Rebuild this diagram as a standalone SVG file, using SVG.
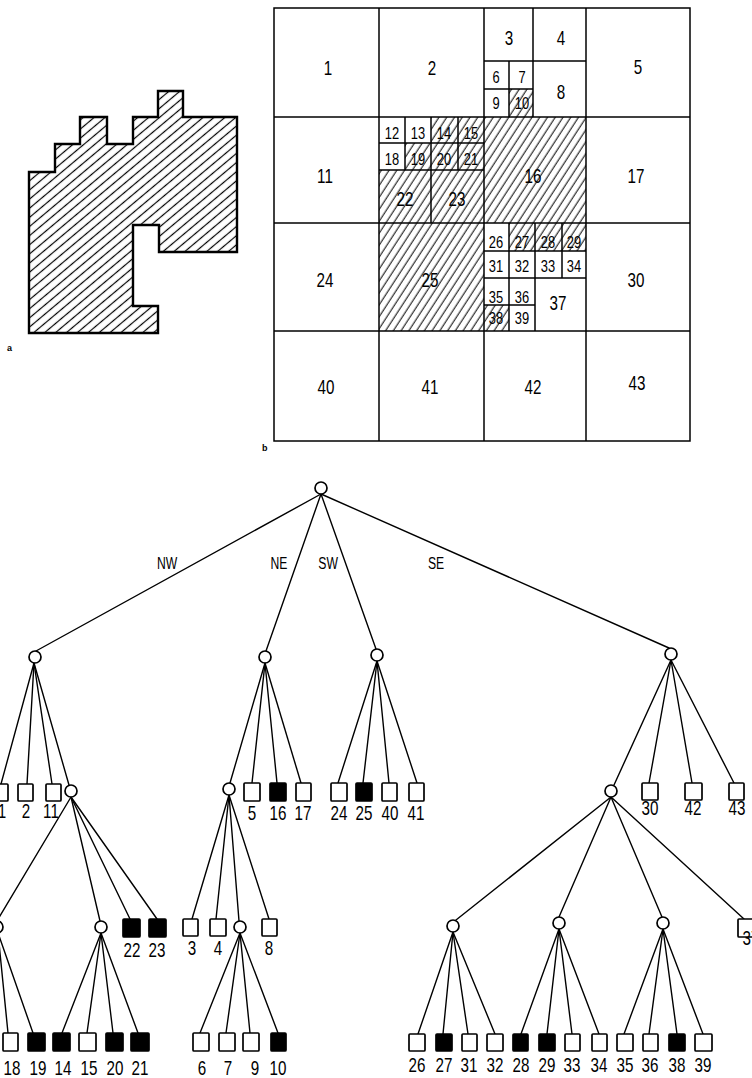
<svg xmlns="http://www.w3.org/2000/svg" width="752" height="1078" viewBox="0 0 752 1078">
<style>
.ln{stroke:#000;stroke-width:1.4;fill:none;stroke-linecap:round}
.sq{fill:#fff;stroke:#000;stroke-width:1.7}
.sqf{fill:#000;stroke:#000;stroke-width:1.7}
.ci{fill:#fff;stroke:#000;stroke-width:1.7}
.cell{fill:none;stroke:#000;stroke-width:1.5}
.hat{fill:url(#hb);stroke:none}
.t,.ts,.te{font-family:"Liberation Sans",Arial,sans-serif;text-anchor:middle;fill:#000;transform-box:fill-box;transform-origin:center;transform:scaleX(0.76)}
.t{font-size:20px}
.ts{font-size:17px}
.te{font-size:16px}
.cap{font-family:"Liberation Sans",sans-serif;font-weight:bold;font-size:9px;fill:#000}
</style>
<defs>
<pattern id="hb" patternUnits="userSpaceOnUse" width="6.5" height="20" patternTransform="rotate(33)"><line x1="3" y1="-1" x2="3" y2="21" stroke="#000" stroke-width="1"/></pattern>
<pattern id="ha" patternUnits="userSpaceOnUse" width="7" height="20" patternTransform="rotate(50)"><line x1="3.5" y1="-1" x2="3.5" y2="21" stroke="#000" stroke-width="1.2"/></pattern>
</defs>

<!-- figure a -->
<g id="figA">
<polygon points="29,172 55,172 55,144 80,144 80,117 107,117 107,144 133,144 133,117 158,117 158,91 183,91 183,117 237,117 237,252 159,252 159,225 133,225 133,306 158,306 158,333 29,333" fill="url(#ha)" stroke="#000" stroke-width="2.4" stroke-linejoin="miter"/>
<text class="cap" x="7" y="351">a</text>
</g>

<!-- figure b -->
<g id="figB">
<g id="hatches">
<rect class="hat" x="509" y="89" width="24" height="28"/>
<rect class="hat" x="431" y="117" width="53" height="53"/>
<rect class="hat" x="405" y="143" width="26" height="27"/>
<rect class="hat" x="379" y="170" width="105" height="53"/>
<rect class="hat" x="484" y="117" width="102" height="106"/>
<rect class="hat" x="379" y="223" width="105" height="108"/>
<rect class="hat" x="509" y="223" width="77" height="28"/>
<rect class="hat" x="484" y="305" width="25" height="26"/>
</g>
<g id="cells">
<rect class="cell" x="274" y="8" width="416" height="433"/>
<line class="cell" x1="379" y1="8" x2="379" y2="441"/>
<line class="cell" x1="484" y1="8" x2="484" y2="441"/>
<line class="cell" x1="586" y1="8" x2="586" y2="441"/>
<line class="cell" x1="274" y1="117" x2="690" y2="117"/>
<line class="cell" x1="274" y1="223" x2="690" y2="223"/>
<line class="cell" x1="274" y1="331" x2="690" y2="331"/>
<line class="cell" x1="533" y1="8" x2="533" y2="117"/>
<line class="cell" x1="484" y1="61" x2="586" y2="61"/>
<line class="cell" x1="509" y1="61" x2="509" y2="117"/>
<line class="cell" x1="484" y1="89" x2="533" y2="89"/>
<line class="cell" x1="405" y1="117" x2="405" y2="170"/>
<line class="cell" x1="431" y1="117" x2="431" y2="223"/>
<line class="cell" x1="458" y1="117" x2="458" y2="170"/>
<line class="cell" x1="379" y1="143" x2="484" y2="143"/>
<line class="cell" x1="379" y1="170" x2="484" y2="170"/>
<line class="cell" x1="509" y1="223" x2="509" y2="331"/>
<line class="cell" x1="535" y1="223" x2="535" y2="331"/>
<line class="cell" x1="562" y1="223" x2="562" y2="278"/>
<line class="cell" x1="484" y1="251" x2="586" y2="251"/>
<line class="cell" x1="484" y1="278" x2="586" y2="278"/>
<line class="cell" x1="484" y1="305" x2="535" y2="305"/>
</g>
<g id="cellLabels">
<text class="t" x="328" y="75">1</text>
<text class="t" x="432" y="75">2</text>
<text class="t" x="509" y="45">3</text>
<text class="t" x="561" y="45">4</text>
<text class="t" x="638" y="74">5</text>
<text class="ts" x="496" y="83">6</text>
<text class="ts" x="522" y="83">7</text>
<text class="ts" x="496" y="109">9</text>
<text class="ts" x="522" y="109">10</text>
<text class="t" x="561" y="99">8</text>
<text class="t" x="325" y="183">11</text>
<text class="ts" x="392" y="139">12</text>
<text class="ts" x="418" y="139">13</text>
<text class="ts" x="444" y="139">14</text>
<text class="ts" x="471" y="139">15</text>
<text class="ts" x="392" y="165">18</text>
<text class="ts" x="418" y="165">19</text>
<text class="ts" x="444" y="165">20</text>
<text class="ts" x="471" y="165">21</text>
<text class="t" x="405" y="206">22</text>
<text class="t" x="457" y="206">23</text>
<text class="t" x="533" y="183">16</text>
<text class="t" x="636" y="183">17</text>
<text class="t" x="325" y="287">24</text>
<text class="t" x="430" y="287">25</text>
<text class="t" x="636" y="287">30</text>
<text class="ts" x="496" y="248">26</text>
<text class="ts" x="522" y="248">27</text>
<text class="ts" x="548" y="248">28</text>
<text class="ts" x="574" y="248">29</text>
<text class="ts" x="496" y="272">31</text>
<text class="ts" x="522" y="272">32</text>
<text class="ts" x="548" y="272">33</text>
<text class="ts" x="574" y="272">34</text>
<text class="ts" x="496" y="303">35</text>
<text class="ts" x="522" y="303">36</text>
<text class="ts" x="496" y="324">38</text>
<text class="ts" x="522" y="324">39</text>
<text class="t" x="558" y="310">37</text>
<text class="t" x="326" y="394">40</text>
<text class="t" x="430" y="394">41</text>
<text class="t" x="533" y="394">42</text>
<text class="t" x="637" y="390">43</text>
</g>
<text class="cap" x="262" y="451">b</text>
</g>

<!-- tree connectors -->
<g id="connectors">
<line class="ln" x1="321" y1="494" x2="36" y2="651"/>
<line class="ln" x1="321" y1="494" x2="266" y2="651"/>
<line class="ln" x1="321" y1="494" x2="376" y2="649"/>
<line class="ln" x1="321" y1="494" x2="669" y2="648"/>

<line class="ln" x1="34" y1="663" x2="1" y2="784"/>
<line class="ln" x1="34" y1="663" x2="27" y2="784"/>
<line class="ln" x1="34" y1="663" x2="52" y2="784"/>
<line class="ln" x1="34" y1="663" x2="69" y2="785"/>

<line class="ln" x1="71" y1="797" x2="-3" y2="921"/>
<line class="ln" x1="71" y1="797" x2="100" y2="921"/>
<line class="ln" x1="71" y1="797" x2="130" y2="919"/>
<line class="ln" x1="71" y1="797" x2="157" y2="919"/>

<line class="ln" x1="-2" y1="933" x2="8" y2="1033"/>
<line class="ln" x1="-2" y1="933" x2="33" y2="1033"/>

<line class="ln" x1="101" y1="933" x2="62" y2="1033"/>
<line class="ln" x1="101" y1="933" x2="87" y2="1033"/>
<line class="ln" x1="101" y1="933" x2="113" y2="1033"/>
<line class="ln" x1="101" y1="933" x2="138" y2="1033"/>

<line class="ln" x1="265" y1="663" x2="230" y2="783"/>
<line class="ln" x1="265" y1="663" x2="252" y2="783"/>
<line class="ln" x1="265" y1="663" x2="277" y2="783"/>
<line class="ln" x1="265" y1="663" x2="301" y2="783"/>

<line class="ln" x1="229" y1="795" x2="192" y2="919"/>
<line class="ln" x1="229" y1="795" x2="216" y2="919"/>
<line class="ln" x1="229" y1="795" x2="239" y2="921"/>
<line class="ln" x1="229" y1="795" x2="269" y2="919"/>

<line class="ln" x1="240" y1="933" x2="200" y2="1033"/>
<line class="ln" x1="240" y1="933" x2="226" y2="1033"/>
<line class="ln" x1="240" y1="933" x2="250" y2="1033"/>
<line class="ln" x1="240" y1="933" x2="278" y2="1033"/>

<line class="ln" x1="377" y1="661" x2="338" y2="783"/>
<line class="ln" x1="377" y1="661" x2="363" y2="783"/>
<line class="ln" x1="377" y1="661" x2="389" y2="783"/>
<line class="ln" x1="377" y1="661" x2="417" y2="783"/>

<line class="ln" x1="671" y1="660" x2="614" y2="785"/>
<line class="ln" x1="671" y1="660" x2="649" y2="783"/>
<line class="ln" x1="671" y1="660" x2="692" y2="783"/>
<line class="ln" x1="671" y1="660" x2="734" y2="783"/>

<line class="ln" x1="611" y1="797" x2="456" y2="920"/>
<line class="ln" x1="611" y1="797" x2="559" y2="917"/>
<line class="ln" x1="611" y1="797" x2="662" y2="917"/>
<line class="ln" x1="611" y1="797" x2="744" y2="919"/>

<line class="ln" x1="453" y1="932" x2="418" y2="1034"/>
<line class="ln" x1="453" y1="932" x2="443" y2="1034"/>
<line class="ln" x1="453" y1="932" x2="468" y2="1034"/>
<line class="ln" x1="453" y1="932" x2="495" y2="1034"/>

<line class="ln" x1="559" y1="929" x2="521" y2="1034"/>
<line class="ln" x1="559" y1="929" x2="547" y2="1034"/>
<line class="ln" x1="559" y1="929" x2="572" y2="1034"/>
<line class="ln" x1="559" y1="929" x2="599" y2="1034"/>

<line class="ln" x1="663" y1="929" x2="624" y2="1034"/>
<line class="ln" x1="663" y1="929" x2="649" y2="1034"/>
<line class="ln" x1="663" y1="929" x2="677" y2="1034"/>
<line class="ln" x1="663" y1="929" x2="703" y2="1034"/>

<text class="te" x="167" y="569">NW</text>
<text class="te" x="279" y="569">NE</text>
<text class="te" x="328" y="569">SW</text>
<text class="te" x="436" y="569">SE</text>
</g>

<!-- internal nodes -->
<g id="n-root"><circle class="ci" cx="321" cy="488" r="6"/></g>
<g id="n-NW"><circle class="ci" cx="35" cy="657" r="6"/></g>
<g id="n-NE"><circle class="ci" cx="265" cy="657" r="6"/></g>
<g id="n-SW"><circle class="ci" cx="377" cy="655" r="6"/></g>
<g id="n-SE"><circle class="ci" cx="671" cy="654" r="6"/></g>
<g id="n-NW-SE"><circle class="ci" cx="71" cy="791" r="6"/></g>
<g id="n-NW-SE-NW"><circle class="ci" cx="-3" cy="927" r="6"/></g>
<g id="n-NW-SE-NE"><circle class="ci" cx="101" cy="927" r="6"/></g>
<g id="n-NE-NW"><circle class="ci" cx="229" cy="789" r="6"/></g>
<g id="n-NE-NW-SW"><circle class="ci" cx="240" cy="927" r="6"/></g>
<g id="n-SE-NW"><circle class="ci" cx="611" cy="791" r="6"/></g>
<g id="n-SE-NW-NW"><circle class="ci" cx="453" cy="926" r="6"/></g>
<g id="n-SE-NW-NE"><circle class="ci" cx="559" cy="923" r="6"/></g>
<g id="n-SE-NW-SW"><circle class="ci" cx="663" cy="923" r="6"/></g>

<!-- leaves level 2 -->
<g id="leaf-1"><rect class="sq" x="-7" y="784" width="15" height="17" rx="1"/><text class="t" x="2" y="818">1</text></g>
<g id="leaf-2"><rect class="sq" x="18" y="784" width="15" height="17" rx="1"/><text class="t" x="26" y="818">2</text></g>
<g id="leaf-11"><rect class="sq" x="46" y="784" width="15" height="17" rx="1"/><text class="t" x="51" y="818">11</text></g>
<g id="leaf-5"><rect class="sq" x="244" y="783" width="16" height="18" rx="1"/><text class="t" x="252" y="820">5</text></g>
<g id="leaf-16"><rect class="sqf" x="270" y="783" width="16" height="18" rx="1"/><text class="t" x="278" y="820">16</text></g>
<g id="leaf-17"><rect class="sq" x="296" y="783" width="15" height="18" rx="1"/><text class="t" x="303" y="820">17</text></g>
<g id="leaf-24"><rect class="sq" x="331" y="783" width="16" height="18" rx="1"/><text class="t" x="339" y="820">24</text></g>
<g id="leaf-25"><rect class="sqf" x="356" y="783" width="16" height="18" rx="1"/><text class="t" x="364" y="820">25</text></g>
<g id="leaf-40"><rect class="sq" x="382" y="783" width="15" height="18" rx="1"/><text class="t" x="390" y="820">40</text></g>
<g id="leaf-41"><rect class="sq" x="409" y="783" width="15" height="18" rx="1"/><text class="t" x="416" y="820">41</text></g>
<g id="leaf-30"><rect class="sq" x="642" y="783" width="16" height="17" rx="1"/><text class="t" x="650" y="815">30</text></g>
<g id="leaf-42"><rect class="sq" x="685" y="783" width="17" height="17" rx="1"/><text class="t" x="693" y="815">42</text></g>
<g id="leaf-43"><rect class="sq" x="729" y="783" width="15" height="17" rx="1"/><text class="t" x="737" y="815">43</text></g>

<!-- leaves level 3 -->
<g id="leaf-22"><rect class="sqf" x="123" y="919" width="17" height="18" rx="1"/><text class="t" x="132" y="957">22</text></g>
<g id="leaf-23"><rect class="sqf" x="149" y="919" width="17" height="18" rx="1"/><text class="t" x="157" y="957">23</text></g>
<g id="leaf-3"><rect class="sq" x="183" y="919" width="15" height="17" rx="1"/><text class="t" x="192" y="955">3</text></g>
<g id="leaf-4"><rect class="sq" x="210" y="919" width="16" height="17" rx="1"/><text class="t" x="218" y="955">4</text></g>
<g id="leaf-8"><rect class="sq" x="262" y="919" width="15" height="17" rx="1"/><text class="t" x="269" y="955">8</text></g>
<g id="leaf-37"><rect class="sq" x="738" y="919" width="18" height="18" rx="1"/><text class="t" x="751" y="945">37</text></g>

<!-- leaves level 4 -->
<g id="leaf-18"><rect class="sq" x="3" y="1033" width="15" height="18" rx="1"/><text class="t" x="12" y="1075">18</text></g>
<g id="leaf-19"><rect class="sqf" x="28" y="1033" width="17" height="18" rx="1"/><text class="t" x="38" y="1075">19</text></g>
<g id="leaf-14"><rect class="sqf" x="53" y="1033" width="17" height="18" rx="1"/><text class="t" x="63" y="1075">14</text></g>
<g id="leaf-15"><rect class="sq" x="79" y="1033" width="17" height="18" rx="1"/><text class="t" x="89" y="1075">15</text></g>
<g id="leaf-20"><rect class="sqf" x="106" y="1033" width="17" height="18" rx="1"/><text class="t" x="115" y="1075">20</text></g>
<g id="leaf-21"><rect class="sqf" x="131" y="1033" width="18" height="18" rx="1"/><text class="t" x="140" y="1075">21</text></g>
<g id="leaf-6"><rect class="sq" x="193" y="1033" width="16" height="18" rx="1"/><text class="t" x="202" y="1075">6</text></g>
<g id="leaf-7"><rect class="sq" x="219" y="1033" width="16" height="18" rx="1"/><text class="t" x="228" y="1075">7</text></g>
<g id="leaf-9"><rect class="sq" x="243" y="1033" width="16" height="18" rx="1"/><text class="t" x="255" y="1075">9</text></g>
<g id="leaf-10"><rect class="sqf" x="271" y="1033" width="15" height="18" rx="1"/><text class="t" x="278" y="1075">10</text></g>
<g id="leaf-26"><rect class="sq" x="409" y="1034" width="16" height="17" rx="1"/><text class="t" x="417" y="1072">26</text></g>
<g id="leaf-27"><rect class="sqf" x="436" y="1034" width="16" height="17" rx="1"/><text class="t" x="444" y="1072">27</text></g>
<g id="leaf-31"><rect class="sq" x="462" y="1034" width="15" height="17" rx="1"/><text class="t" x="469" y="1072">31</text></g>
<g id="leaf-32"><rect class="sq" x="487" y="1034" width="16" height="17" rx="1"/><text class="t" x="495" y="1072">32</text></g>
<g id="leaf-28"><rect class="sqf" x="513" y="1034" width="15" height="17" rx="1"/><text class="t" x="521" y="1072">28</text></g>
<g id="leaf-29"><rect class="sqf" x="539" y="1034" width="16" height="17" rx="1"/><text class="t" x="547" y="1072">29</text></g>
<g id="leaf-33"><rect class="sq" x="565" y="1034" width="15" height="17" rx="1"/><text class="t" x="572" y="1072">33</text></g>
<g id="leaf-34"><rect class="sq" x="592" y="1034" width="15" height="17" rx="1"/><text class="t" x="599" y="1072">34</text></g>
<g id="leaf-35"><rect class="sq" x="617" y="1034" width="16" height="17" rx="1"/><text class="t" x="625" y="1072">35</text></g>
<g id="leaf-36"><rect class="sq" x="643" y="1034" width="15" height="17" rx="1"/><text class="t" x="650" y="1072">36</text></g>
<g id="leaf-38"><rect class="sqf" x="669" y="1034" width="16" height="17" rx="1"/><text class="t" x="677" y="1072">38</text></g>
<g id="leaf-39"><rect class="sq" x="695" y="1034" width="17" height="17" rx="1"/><text class="t" x="703" y="1072">39</text></g>
</svg>
